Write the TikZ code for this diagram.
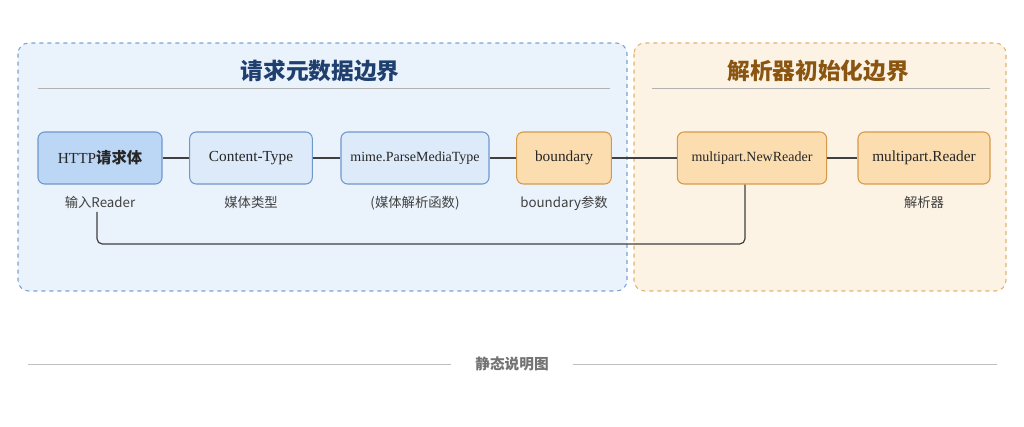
\documentclass[tikz,border=0pt]{standalone}
\usepackage{fontspec}
\newfontfamily\cjk{Noto Sans CJK SC}
\setmainfont{Liberation Serif}
\setsansfont{Noto Sans CJK SC}
\usetikzlibrary{positioning}
\definecolor{zoneblue}{HTML}{EAF3FC}
\definecolor{zonebluedraw}{HTML}{7BA3D4}
\definecolor{zoneorange}{HTML}{FDF3E4}
\definecolor{zoneorangedraw}{HTML}{E2B36C}
\definecolor{titleblue}{HTML}{1F3F6E}
\definecolor{titlebrown}{HTML}{8A5510}
\definecolor{boxblue}{HTML}{DCEAFA}
\definecolor{boxbluedark}{HTML}{BCD6F5}
\definecolor{boxbluedraw}{HTML}{6E98CC}
\definecolor{boxorange}{HTML}{FBDDB0}
\definecolor{boxorangedraw}{HTML}{D49A4A}
\tikzset{
  zone/.style={rounded corners=8pt,dashed,line width=0.8pt},
  stage/.style={draw=boxbluedraw,fill=boxblue,rounded corners=5pt,line width=0.8pt,
    minimum height=39pt,font=\rmfamily\fontsize{11.5}{13}\selectfont,text=black!85},
  stageo/.style={stage,draw=boxorangedraw,fill=boxorange},
  note/.style={font=\sffamily\fontsize{10}{12}\selectfont,text=black!75},
  wire/.style={line width=0.9pt,draw=black!75}
}
\begin{document}
\begin{tikzpicture}[x=0.75pt,y=-0.75pt]
  \useasboundingbox (0,0) rectangle (1024,427);
  % zones
  \draw[zone,draw=zonebluedraw,fill=zoneblue] (18,43) rectangle (627,291);
  \draw[zone,draw=zoneorangedraw,fill=zoneorange] (634,43) rectangle (1006,291);
  \node[font=\cjk\bfseries\fontsize{17}{20}\selectfont,text=titleblue] (t1) at (320,71) {请求元数据边界};
  \node[font=\cjk\bfseries\fontsize{17}{20}\selectfont,text=titlebrown] (t2) at (818,71) {解析器初始化边界};
  \draw[black!30] (38,88) -- (610,88);
  \draw[black!30] (652,88) -- (990,88);

  % nodes
  \node[stage,fill=boxbluedark,minimum width=93pt] (http) at (100,158) {HTTP{\cjk\bfseries 请求体}};
  \node[stage,minimum width=92pt] (ctype) at (251,158) {Content-Type};
  \node[stage,minimum width=111pt,font=\rmfamily\fontsize{10.5}{12}\selectfont] (mime) at (415,158) {mime.ParseMediaType};
  \node[stageo,minimum width=71pt] (bnd) at (564,158) {boundary};
  \node[stageo,minimum width=112pt,font=\rmfamily\fontsize{10.5}{12}\selectfont] (newr) at (752,158) {multipart.NewReader};
  \node[stageo,minimum width=99pt] (reader) at (924,158) {multipart.Reader};

  % notes
  \node[note,below=5pt of http] (n1) {输入Reader};
  \node[note,below=5pt of ctype] (n2) {媒体类型};
  \node[note,below=5pt of mime] (n3) {(媒体解析函数)};
  \node[note,below=5pt of bnd] (n4) {boundary参数};
  \node[note,below=5pt of reader] (n5) {解析器};

  % edges
  \draw[wire] (http) -- (ctype);
  \draw[wire] (ctype) -- (mime);
  \draw[wire] (mime) -- (bnd);
  \draw[wire] (bnd) -- (newr);
  \draw[wire] (newr) -- (reader);
  \coordinate (src) at (97,212);
  \draw[wire,rounded corners=4pt] (src) -- (97,244) -- (745,244) -- (745,158 |- newr.south);

  % footer
  \node[font=\sffamily\bfseries\fontsize{11}{13}\selectfont,text=black!55,inner xsep=18pt] (foot) at (512,364) {静态说明图};
  \draw[black!25] (28,364) -- (foot.west);
  \draw[black!25] (foot.east) -- (997,364);
\end{tikzpicture}
\end{document}
